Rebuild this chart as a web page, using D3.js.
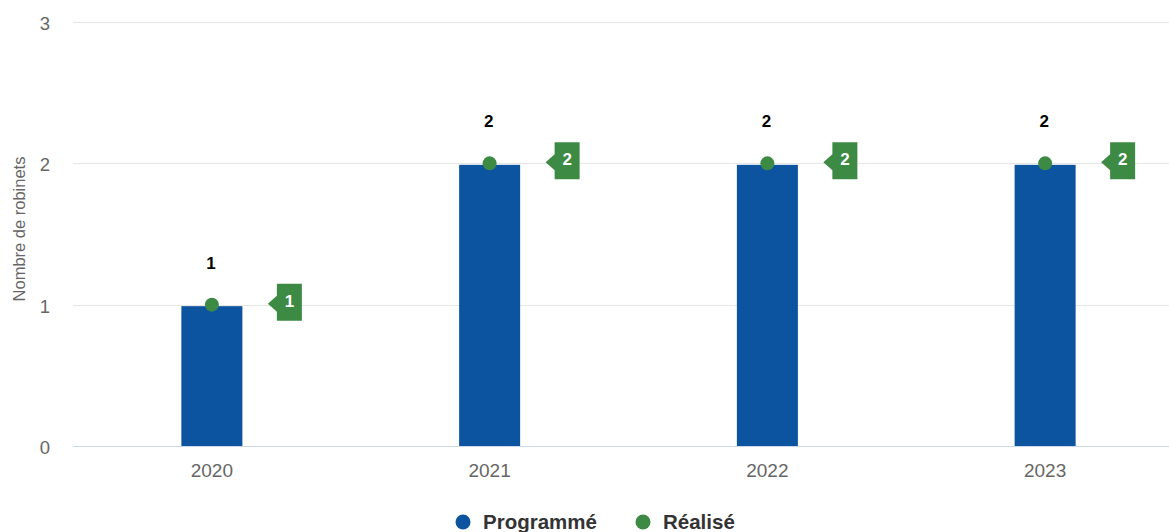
<!DOCTYPE html>
<html>
<head>
<meta charset="utf-8">
<script src="https://cdn.jsdelivr.net/npm/d3@7"></script>
<style>
  body { margin: 0; background: #fff; }
  svg { font-family: "Liberation Sans", Arial, sans-serif; display: block; }
</style>
</head>
<body>
<svg id="chart" width="1169" height="532"></svg>
<script>
const years = ['2020', '2021', '2022', '2023'];
const programme = [1, 2, 2, 2];
const realise = [1, 2, 2, 2];
const yTicks = [0, 1, 2, 3];

const width = 1169;
const margin = { top: 22, left: 73 };

const svg = d3.select('#chart');

const x = d3.scaleBand().domain(years).range([margin.left, 1184]);
const y = d3.scaleLinear().domain([0, 3]).range([446, margin.top]);
const cx = d => x(d) + x.bandwidth() / 2;

// gridlines
svg.append('g')
  .selectAll('line')
  .data(yTicks.filter(d => d > 0))
  .enter()
  .append('line')
  .attr('x1', margin.left)
  .attr('x2', width)
  .attr('y1', d => Math.round(y(d)) + 0.5)
  .attr('y2', d => Math.round(y(d)) + 0.5)
  .attr('stroke', '#e6e6e6');

// y axis labels
svg.append('g')
  .selectAll('text')
  .data(yTicks)
  .enter()
  .append('text')
  .attr('x', 50)
  .attr('y', d => y(d) + 8)
  .attr('text-anchor', 'end')
  .attr('fill', '#666')
  .style('font-size', '18.5px')
  .text(d => d);

svg.append('text')
  .attr('transform', `translate(25,229) rotate(-90)`)
  .attr('text-anchor', 'middle')
  .attr('fill', '#666')
  .style('font-size', '16.5px')
  .text('Nombre de robinets');

// bars
const barW = 61;
svg.append('g')
  .selectAll('rect')
  .data(years)
  .enter()
  .append('rect')
  .attr('x', d => cx(d) - barW / 2)
  .attr('y', (d, i) => y(programme[i]) + 1.5)
  .attr('width', barW)
  .attr('height', (d, i) => y(0) - y(programme[i]) - 1.5)
  .attr('fill', '#0c53a0');

// baseline
svg.append('line')
  .attr('x1', margin.left)
  .attr('x2', width)
  .attr('y1', y(0) + 0.5)
  .attr('y2', y(0) + 0.5)
  .attr('stroke', '#ccd6eb');

// x axis labels
svg.append('g')
  .selectAll('text')
  .data(years)
  .enter()
  .append('text')
  .attr('x', d => cx(d))
  .attr('y', 477)
  .attr('text-anchor', 'middle')
  .attr('fill', '#666')
  .style('font-size', '19px')
  .text(d => d);

// bar labels
svg.append('g')
  .selectAll('text')
  .data(years)
  .enter()
  .append('text')
  .attr('x', d => cx(d) - 1)
  .attr('y', (d, i) => y(programme[i]) - 36)
  .attr('text-anchor', 'middle')
  .attr('fill', '#000')
  .style('font-size', '17px')
  .style('font-weight', 'bold')
  .text((d, i) => programme[i]);

// realise points
const green = '#3c8a44';
svg.append('g')
  .selectAll('circle')
  .data(years)
  .enter()
  .append('circle')
  .attr('cx', d => cx(d))
  .attr('cy', (d, i) => y(realise[i]))
  .attr('r', 7)
  .attr('fill', green);

// callout labels
const callouts = svg.append('g')
  .selectAll('g')
  .data(years)
  .enter()
  .append('g')
  .attr('transform', (d, i) => `translate(${cx(d) + 56},${y(realise[i]) - 1})`);

callouts.append('path')
  .attr('d', 'M0,0 L9,-8 L9,-20 L34,-20 L34,17 L9,17 L9,8 Z')
  .attr('fill', green);

callouts.append('text')
  .attr('x', 21.5)
  .attr('y', 3)
  .attr('text-anchor', 'middle')
  .attr('fill', '#fff')
  .style('font-size', '17px')
  .style('font-weight', 'bold')
  .text((d, i) => realise[i]);

// legend
const legend = [
  { name: 'Programmé', color: '#0c53a0', cx: 463, tx: 483 },
  { name: 'Réalisé', color: green, cx: 643, tx: 663 }
];
const lg = svg.append('g').selectAll('g').data(legend).enter().append('g');
lg.append('circle')
  .attr('cx', d => d.cx)
  .attr('cy', 522)
  .attr('r', 7.5)
  .attr('fill', d => d.color);
lg.append('text')
  .attr('x', d => d.tx)
  .attr('y', 529)
  .attr('fill', '#333')
  .style('font-size', '20.5px')
  .style('font-weight', 'bold')
  .text(d => d.name);
</script>
</body>
</html>
